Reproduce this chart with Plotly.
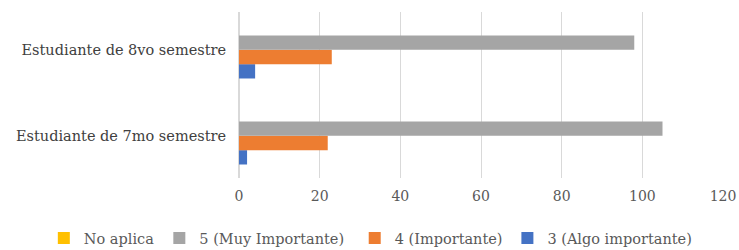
import plotly.graph_objects as go

categories = ["Estudiante de 7mo semestre", "Estudiante de 8vo semestre"]
series_names = ["No aplica", "5 (Muy Importante)", "4 (Importante)", "3 (Algo importante)"]
no_aplica = [0, 0]
muy_importante = [105, 98]
importante = [22, 23]
algo_importante = [2, 4]
colors = ["#FFC000", "#A5A5A5", "#ED7D31", "#4472C4"]
x_ticks = [0, 20, 40, 60, 80, 100, 120]

values = [no_aplica, muy_importante, importante, algo_importante]
legend_ids = ["legend", "legend2", "legend3", "legend4"]
legend_x = [0.0593, 0.2156, 0.48, 0.6866]
FONT = "DejaVu Serif"

fig = go.Figure()
# plotly places the first trace at the bottom of a horizontal group; add in reverse
for name, vals, col, lid in reversed(list(zip(series_names, values, colors, legend_ids))):
    fig.add_trace(go.Bar(y=categories, x=vals, name=name, orientation="h", legend=lid,
                         marker=dict(color=col, line=dict(width=0))))

legend_common = dict(orientation="h", xref="container", xanchor="left",
                     yref="container", y=0.048, yanchor="middle",
                     font=dict(family=FONT, size=14.5, color="#595959"),
                     itemwidth=30, bgcolor="rgba(0,0,0,0)")

fig.update_layout(
    width=739, height=250,
    margin=dict(l=239, r=16, t=12, b=72),
    barmode="group", bargap=0.334, bargroupgap=0,
    plot_bgcolor="white", paper_bgcolor="white",
    font=dict(family=FONT, size=14, color="#595959"),
    showlegend=True,
    xaxis=dict(range=[0, 120], tickvals=x_ticks, showgrid=True, gridcolor="#D9D9D9",
               gridwidth=1, zeroline=True, zerolinecolor="#D9D9D9", showline=False,
               ticks="", automargin=False, ticklabelstandoff=8,
               tickfont=dict(family=FONT, size=14, color="#595959")),
    yaxis=dict(categoryorder="array", categoryarray=categories, range=[-0.49, 1.44],
               showgrid=False, showline=False, ticks="", automargin=False,
               ticklabelstandoff=12,
               tickfont=dict(family=FONT, size=14.5, color="#404040")),
)
fig.update_layout({lid: dict(legend_common, x=lx) for lid, lx in zip(legend_ids, legend_x)})

fig.write_html("out.html", config={"displayModeBar": False},
               post_script="document.body.style.margin='0';document.body.style.overflow='hidden';")
